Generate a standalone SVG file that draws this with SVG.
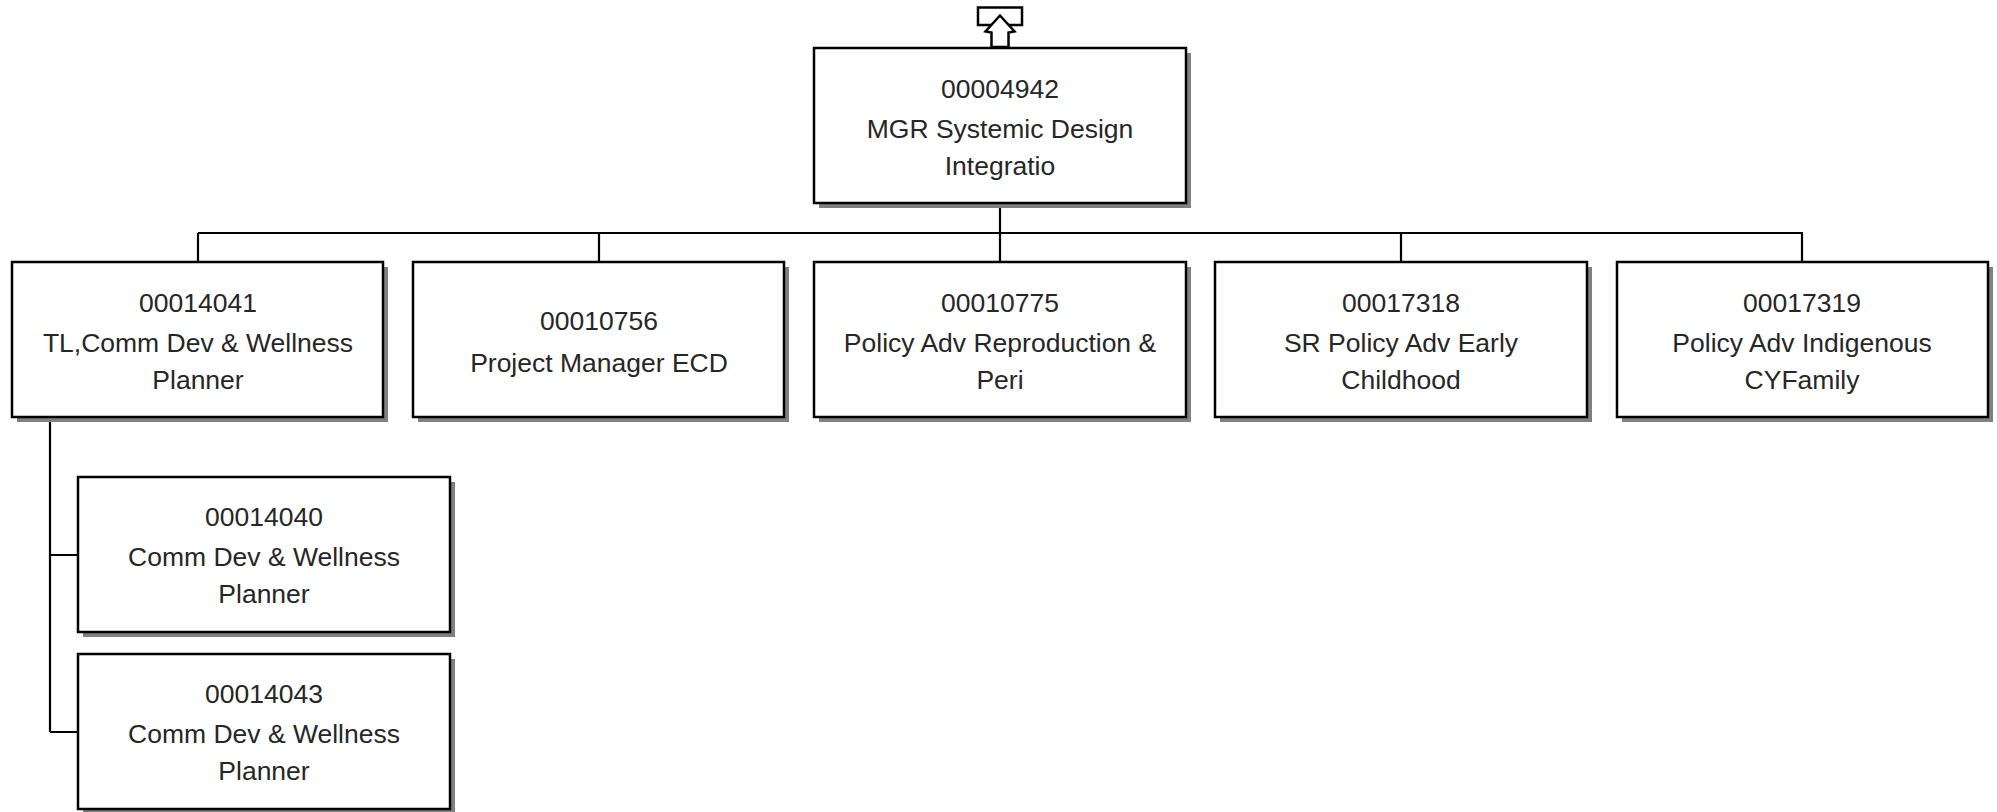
<svg xmlns="http://www.w3.org/2000/svg" width="1997" height="812" viewBox="0 0 1997 812">
<style>
.shadow{fill:#808080;stroke:none}
.box{fill:#ffffff;stroke:#000000;stroke-width:2.5}
.t{font-family:"Liberation Sans",Arial,sans-serif;font-size:26.5px;fill:#262626;text-anchor:middle}
.conn{fill:none;stroke:#000000;stroke-width:2.2}
</style>
<rect width="1997" height="812" fill="#ffffff"/>
<g id="connectors">
<path class="conn" d="M1000 203 V233 M198 233 H1803 M198 233 V262 M599 233 V262 M1000 233 V262 M1401 233 V262 M1802 233 V262"/>
<path class="conn" d="M50 417 V732 M50 555 H78 M50 732 H78"/>
</g>
<g id="up-arrow">
<rect x="978" y="7.5" width="44" height="17.5" fill="#ffffff" stroke="#000000" stroke-width="2.5"/>
<path d="M1000 15.5 L985.5 31.5 L991.5 32.5 L991.5 47 L1008.5 47 L1008.5 32.5 L1014.5 31.5 Z" fill="#ffffff" stroke="#000000" stroke-width="2.5" stroke-linejoin="miter"/>
</g>
<g id="n00004942">
<rect class="shadow" x="819" y="53" width="372" height="155"/>
<rect class="box" x="814" y="48" width="372" height="155"/>
<text class="t" x="1000" y="98">00004942</text>
<text class="t" x="1000" y="138">MGR Systemic Design</text>
<text class="t" x="1000" y="175">Integratio</text>
</g>
<g id="n00014041">
<rect class="shadow" x="17" y="267" width="371" height="155"/>
<rect class="box" x="12" y="262" width="371" height="155"/>
<text class="t" x="198" y="312">00014041</text>
<text class="t" x="198" y="352">TL,Comm Dev &amp; Wellness</text>
<text class="t" x="198" y="389">Planner</text>
</g>
<g id="n00010756">
<rect class="shadow" x="418" y="267" width="371" height="155"/>
<rect class="box" x="413" y="262" width="371" height="155"/>
<text class="t" x="599" y="330">00010756</text>
<text class="t" x="599" y="372">Project Manager ECD</text>
</g>
<g id="n00010775">
<rect class="shadow" x="819" y="267" width="372" height="155"/>
<rect class="box" x="814" y="262" width="372" height="155"/>
<text class="t" x="1000" y="312">00010775</text>
<text class="t" x="1000" y="352">Policy Adv Reproduction &amp;</text>
<text class="t" x="1000" y="389">Peri</text>
</g>
<g id="n00017318">
<rect class="shadow" x="1220" y="267" width="372" height="155"/>
<rect class="box" x="1215" y="262" width="372" height="155"/>
<text class="t" x="1401" y="312">00017318</text>
<text class="t" x="1401" y="352">SR Policy Adv Early</text>
<text class="t" x="1401" y="389">Childhood</text>
</g>
<g id="n00017319">
<rect class="shadow" x="1622" y="267" width="371" height="155"/>
<rect class="box" x="1617" y="262" width="371" height="155"/>
<text class="t" x="1802" y="312">00017319</text>
<text class="t" x="1802" y="352">Policy Adv Indigenous</text>
<text class="t" x="1802" y="389">CYFamily</text>
</g>
<g id="n00014040">
<rect class="shadow" x="83" y="482" width="372" height="155"/>
<rect class="box" x="78" y="477" width="372" height="155"/>
<text class="t" x="264" y="526">00014040</text>
<text class="t" x="264" y="566">Comm Dev &amp; Wellness</text>
<text class="t" x="264" y="603">Planner</text>
</g>
<g id="n00014043">
<rect class="shadow" x="83" y="659" width="372" height="155"/>
<rect class="box" x="78" y="654" width="372" height="155"/>
<text class="t" x="264" y="703">00014043</text>
<text class="t" x="264" y="743">Comm Dev &amp; Wellness</text>
<text class="t" x="264" y="780">Planner</text>
</g>
</svg>
